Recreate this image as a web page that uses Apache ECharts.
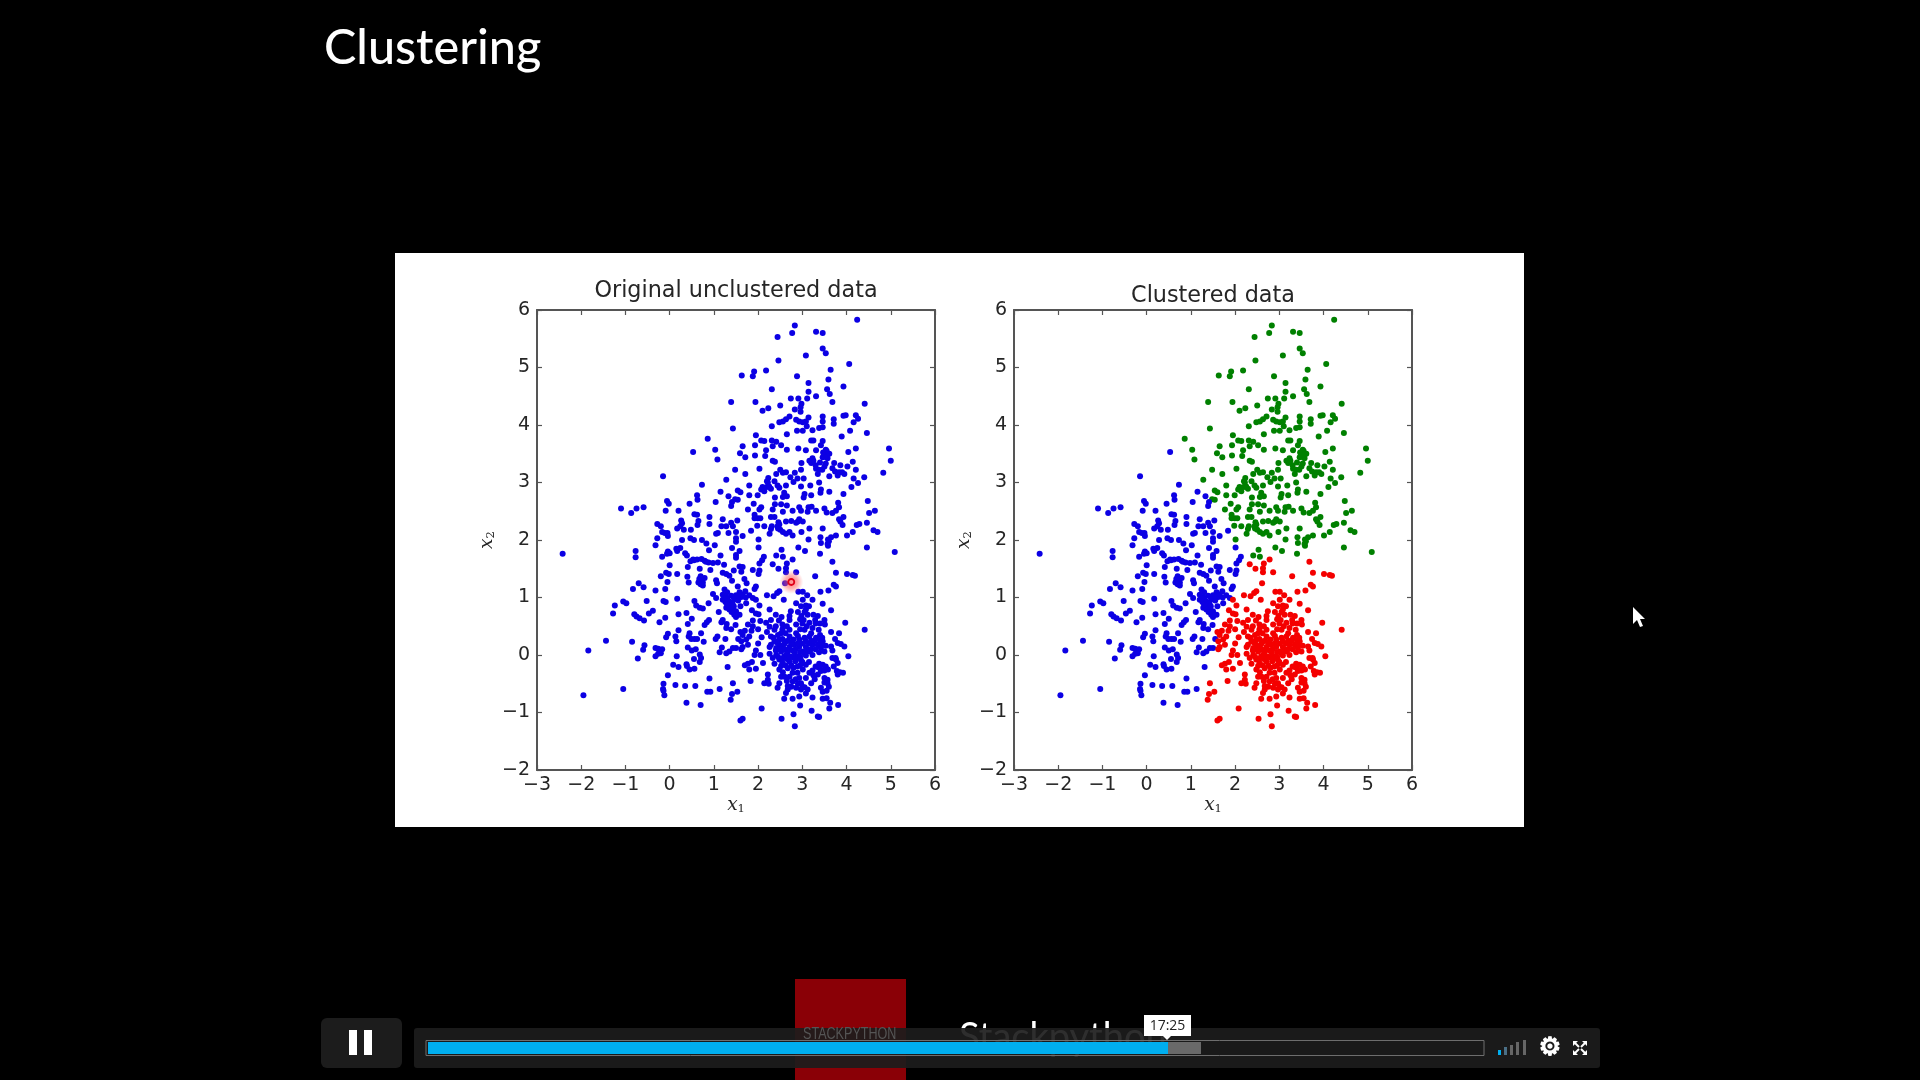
<!DOCTYPE html>
<html><head><meta charset="utf-8"><style>html,body{margin:0;padding:0;background:#000}#c{width:1920px;height:1080px}</style>
<script src="https://cdn.jsdelivr.net/npm/echarts@6/dist/echarts.min.js"></script></head><body><div id="c"></div>
<script>
const pageTitle = "Clustering";
const leftTitle = "Original unclustered data";
const rightTitle = "Clustered data";
const clickPoint = [[2.75,1.27]];
const greenPoints = [[4.24,5.83],[2.83,5.73],[2.77,5.6],[3.31,5.62],[3.46,5.6],[2.44,5.53],[3.46,5.33],[3.53,5.25],[3.08,5.21],[2.46,5.12],[4.06,5.06],[3.64,4.96],[2.18,4.95],[1.91,4.93],[1.88,4.85],[1.63,4.86],[2.88,4.85],[3.59,4.79],[3.14,4.73],[3.93,4.67],[2.31,4.62],[3.56,4.62],[3.14,4.58],[3.62,4.54],[3.31,4.5],[2.74,4.46],[2.91,4.46],[3.11,4.46],[1.94,4.4],[1.39,4.4],[3.68,4.4],[2.98,4.37],[4.41,4.37],[2.5,4.34],[2.96,4.31],[2.23,4.29],[2.1,4.25],[2.83,4.27],[2.96,4.23],[4.21,4.17],[3.93,4.16],[3.98,4.17],[4.26,4.11],[3.46,4.15],[3.14,4.13],[3.71,4.1],[2.71,4.15],[2.63,4.1],[2.56,4.06],[2.48,4.05],[4.16,4.05],[2.86,4.09],[2.93,4.06],[3.01,4.05],[3.08,4.06],[3.46,4.06],[3.71,4.02],[2.31,3.98],[3.1,3.98],[3.46,3.96],[3.38,3.95],[1.43,3.94],[3.23,3.91],[4.08,3.9],[2.88,3.9],[3.01,3.9],[4.46,3.86],[2.65,3.84],[1.95,3.82],[3.89,3.8],[0.86,3.76],[2.07,3.73],[2.31,3.73],[2.14,3.72],[2.41,3.71],[3.2,3.73],[3.25,3.73],[3.46,3.72],[2.52,3.65],[1.93,3.65],[1.65,3.63],[2.33,3.63],[3.42,3.65],[4.96,3.59],[2.91,3.59],[4.21,3.59],[1.03,3.57],[2.65,3.57],[3.08,3.56],[2.18,3.56],[3.31,3.56],[3.53,3.57],[1.59,3.51],[4.04,3.53],[3.5,3.5],[3.61,3.5],[1.93,3.47],[2.16,3.46],[1.71,3.44],[3.46,3.44],[3.23,3.42],[3.16,3.38],[3.57,3.42],[1.08,3.4],[5.0,3.38],[2.33,3.38],[2.38,3.36],[4.14,3.36],[2.98,3.34],[3.72,3.34],[3.53,3.33],[3.2,3.34],[3.86,3.3],[4.02,3.28],[3.5,3.28],[2.03,3.24],[3.31,3.24],[3.38,3.22],[4.21,3.22],[1.48,3.22],[2.5,3.22],[2.97,3.22],[3.74,3.19],[3.83,3.18],[2.63,3.18],[2.56,3.17],[2.41,3.15],[1.71,3.15],[2.83,3.17],[4.83,3.17],[3.35,3.15],[3.95,3.15],[3.8,3.12],[3.61,3.11],[2.73,3.09],[4.4,3.09],[4.16,3.07],[2.23,3.08],[2.2,3.02],[2.89,3.07],[3.03,3.07],[1.28,3.05],[2.37,3.02],[2.8,3.01],[4.26,2.99],[3.38,3.0],[1.8,2.95],[2.63,2.95],[2.44,2.95],[2.1,2.92],[3.18,2.95],[2.97,2.93],[4.11,2.92],[2.48,2.91],[2.07,2.88],[2.29,2.89],[3.42,2.88],[1.54,2.86],[2.14,2.85],[3.61,2.84],[1.6,2.83],[3.41,2.82],[1.99,2.78],[1.8,2.78],[3.93,2.8],[3.2,2.78],[2.59,2.82],[2.65,2.76],[3.05,2.8],[3.03,2.74],[2.38,2.74],[2.56,2.75],[1.48,2.71],[1.54,2.7],[4.48,2.68],[1.9,2.63],[2.38,2.62],[2.52,2.62],[3.81,2.65],[1.77,2.53],[2.07,2.57],[2.03,2.53],[2.93,2.57],[3.83,2.57],[3.14,2.57],[3.21,2.58],[3.5,2.55],[2.33,2.53],[2.78,2.51],[2.97,2.51],[2.56,2.49],[3.31,2.51],[3.55,2.48],[3.12,2.49],[3.68,2.47],[3.76,2.51],[4.64,2.51],[4.51,2.47],[1.92,2.44],[2.29,2.4],[2.37,2.4],[1.92,2.38],[1.99,2.38],[3.93,2.4],[2.93,2.36],[3.83,2.36],[2.46,2.31],[2.63,2.32],[2.86,2.3],[3.01,2.32],[3.86,2.32],[4.46,2.3],[4.29,2.28],[4.23,2.26],[3.91,2.26],[1.98,2.25],[2.14,2.24],[2.31,2.24],[2.48,2.27],[2.44,2.24],[2.29,2.19],[2.5,2.18],[3.16,2.2],[3.46,2.2],[4.61,2.17],[4.7,2.14],[4.14,2.14],[2.71,2.14],[2.56,2.14],[2.26,2.11],[2.98,2.14],[2.63,2.11],[2.78,2.08],[4.01,2.08],[3.76,2.08],[3.65,2.05],[3.41,2.05],[3.58,2.01],[2.01,2.01],[3.14,2.01],[3.42,1.95],[3.57,1.93],[2.53,1.83],[2.91,1.87],[3.06,1.81],[3.58,1.9],[3.6,1.98],[4.46,1.87],[5.09,1.79],[3.4,1.76],[2.41,1.73],[2.56,1.71],[3.5,3.45],[3.55,3.55],[3.47,3.52],[3.4,3.35],[3.45,3.22],[3.3,3.3],[3.25,3.38],[3.68,3.25],[3.9,3.18],[2.2,2.92],[2.22,3.0],[2.25,2.93],[2.05,2.38],[2.75,2.33],[2.9,2.32],[2.45,2.2],[2.65,2.6]];
const bluePoints = [[0.53,3.53],[-0.15,3.11],[0.73,2.96],[0.62,2.78],[0.63,2.7],[1.15,2.84],[1.33,2.76],[1.41,2.66],[1.39,2.59],[-0.06,2.68],[-0.02,2.63],[0.45,2.63],[1.04,2.66],[-1.1,2.55],[-0.75,2.55],[-0.59,2.57],[-0.87,2.47],[-0.09,2.51],[0.2,2.51],[0.56,2.45],[0.62,2.44],[0.9,2.4],[1.2,2.36],[1.53,2.34],[0.26,2.34],[0.65,2.33],[0.9,2.28],[-0.28,2.28],[-0.2,2.24],[0.28,2.29],[1.39,2.3],[1.17,2.24],[1.28,2.24],[1.43,2.24],[0.63,2.26],[0.17,2.2],[0.32,2.18],[0.48,2.18],[0.24,2.24],[1.84,2.16],[1.5,2.14],[1.09,2.12],[1.05,2.11],[1.33,2.12],[-0.17,2.14],[-0.05,2.12],[-0.11,2.12],[-0.28,2.03],[-0.04,2.07],[1.65,2.07],[1.5,2.03],[0.47,2.03],[0.55,2.0],[0.28,2.0],[0.73,2.0],[1.5,1.97],[0.83,1.94],[-0.32,1.91],[1.02,1.91],[1.41,1.86],[2.01,1.87],[0.15,1.85],[0.24,1.86],[-2.42,1.76],[-0.77,1.81],[-0.77,1.7],[-0.04,1.8],[-0.06,1.76],[0,1.77],[-0.17,1.71],[0.17,1.81],[0.35,1.77],[0.39,1.73],[0.53,1.66],[0.47,1.63],[0.62,1.66],[0.79,1.64],[0.89,1.82],[0.88,1.61],[0.98,1.6],[1.09,1.61],[1.15,1.73],[1.5,1.74],[1.58,1.81],[1.5,1.69],[2.13,1.71],[2.09,1.65],[2.03,1.59],[1.58,1.54],[1.65,1.53],[1.23,1.57],[0,1.56],[0.41,1.53],[0.68,1.5],[0.92,1.48],[1.45,1.47],[1.62,1.45],[1.88,1.48],[2.03,1.47],[2.01,1.41],[-0.08,1.43],[-0.02,1.41],[0.17,1.41],[1.2,1.43],[1.28,1.41],[-0.2,1.37],[0.4,1.36],[0.7,1.37],[0.79,1.34],[1.35,1.38],[1.05,1.3],[1.41,1.29],[-0.05,1.27],[0.43,1.26],[0.65,1.26],[0.75,1.26],[-0.7,1.25],[1.07,1.25],[1.69,1.32],[1.74,1.25],[0.75,1.21],[-0.59,1.18],[1.54,1.19],[1.95,1.19],[1.92,1.15],[-0.83,1.15],[-0.1,1.15],[-0.32,1.12],[1.24,1.14],[1.3,1.09],[0.98,1.06],[1.58,1.09],[1.71,1.11],[1.5,1.04],[1.39,1.03],[1.8,1.04],[1.88,0.99],[1.05,0.99],[1.28,1.01],[1.62,1.01],[1.2,0.96],[1.47,0.97],[0.17,0.98],[-0.14,0.94],[-0.09,0.92],[0.56,0.94],[-0.52,0.94],[-1.05,0.93],[-0.98,0.9],[1.73,0.9],[0.88,0.9],[1.26,0.92],[-1.24,0.86],[0.6,0.86],[1.37,0.87],[0.68,0.82],[0.75,0.81],[1.28,0.82],[1.35,0.79],[1.43,0.8],[1.5,0.76],[-0.38,0.77],[-0.47,0.72],[1.11,0.75],[0.38,0.73],[0.2,0.71],[-1.28,0.72],[-0.8,0.71],[-0.75,0.67],[1.46,0.7],[1.58,0.7],[1.5,0.66],[-0.68,0.64],[-0.1,0.65],[0.5,0.63],[-0.58,0.6],[0.89,0.61],[1.2,0.61],[-0.23,0.57],[0.84,0.57],[1.17,0.57],[1.29,0.54],[0.41,0.54],[0.79,0.52],[1.49,0.52],[0.2,0.43],[1.28,0.47],[1.39,0.45],[0.45,0.38],[0.71,0.38],[-0.04,0.37],[1.08,0.32],[-0.08,0.31],[0.13,0.32],[0.43,0.32],[0.49,0.28],[0.56,0.28],[0.62,0.28],[1.04,0.28],[1.26,0.28],[0.15,0.24],[1.55,0.28],[-1.44,0.25],[-0.85,0.23],[0.77,0.23],[-0.57,0.17],[-0.6,0.09],[0.41,0.13],[1.18,0.13],[1.5,0.12],[1.43,0.12],[-0.32,0.12],[-0.26,0.11],[-0.17,0.1],[0.5,0.08],[0.59,0.1],[1.13,0.05],[1.35,0.06],[1.28,0.03],[-1.84,0.08],[-0.2,0.03],[-0.26,0.02],[-0.32,-0.02],[0.68,0.01],[0.16,-0.02],[-0.72,-0.06],[0.71,-0.05],[0.55,-0.07],[0.68,-0.12],[0.08,-0.17],[0.38,-0.16],[0.39,-0.19],[0.2,-0.21],[1.31,-0.21],[0.56,-0.24],[0.45,-0.25],[-0.04,-0.35],[0.9,-0.41],[-0.14,-0.5],[0.13,-0.52],[0.35,-0.54],[0.58,-0.54],[-0.15,-0.59],[-1.05,-0.59],[1.13,-0.59],[0.85,-0.64],[0.92,-0.64],[-0.14,-0.62],[-0.12,-0.7],[-1.95,-0.7],[0.38,-0.83],[0.7,-0.87],[1.3,0.98],[1.35,0.93],[1.42,0.9],[1.45,1.0],[1.55,0.95],[1.3,0.88],[1.4,0.75],[1.6,0.85],[1.55,1.03],[1.65,1.05],[1.72,1.0],[1.45,0.85],[1.2,1.05],[1.25,0.98],[1.52,0.7],[0.55,1.65],[0.72,1.67],[0.82,1.62],[0.67,1.32],[0.73,1.33],[0.7,1.23]];
const redPoints = [[2.78,1.66],[2.65,1.59],[2.33,1.58],[3.68,1.62],[2.46,1.5],[2.63,1.51],[2.63,1.44],[2.86,1.44],[3.76,1.43],[4.01,1.41],[4.14,1.39],[4.19,1.38],[3.29,1.37],[2.61,1.25],[3.71,1.22],[3.76,1.19],[3.59,1.12],[3.41,1.1],[2.48,1.11],[2.91,1.1],[3.01,1.1],[3.11,1.04],[2.2,1.04],[2.35,1.02],[2.43,1.08],[2.58,0.96],[3.01,0.96],[3.23,0.96],[1.95,0.96],[2.86,0.9],[3.46,0.89],[2.03,0.86],[3.08,0.86],[2.97,0.85],[2.26,0.79],[1.86,0.78],[3.65,0.78],[3.08,0.79],[1.95,0.72],[2.01,0.71],[2.74,0.76],[3.12,0.7],[2.4,0.7],[2.53,0.66],[2.71,0.68],[2.98,0.68],[3.35,0.68],[2.29,0.61],[1.88,0.6],[2.05,0.59],[2.47,0.6],[2.71,0.61],[3.03,0.61],[3.29,0.61],[3.5,0.61],[1.77,0.53],[1.88,0.5],[2.18,0.56],[3.16,0.56],[3.97,0.56],[2.55,0.53],[2.86,0.53],[3.51,0.53],[2.26,0.49],[2.37,0.44],[4.41,0.44],[3.23,0.47],[2.71,0.44],[3.05,0.44],[3.37,0.44],[3.65,0.4],[3.83,0.38],[2.52,0.38],[2.86,0.38],[2.29,0.32],[1.65,0.35],[1.8,0.32],[2.08,0.31],[2.71,0.32],[3.16,0.32],[3.31,0.3],[3.74,0.28],[1.73,0.27],[1.62,0.24],[2.48,0.27],[2.37,0.24],[2.63,0.24],[2.93,0.27],[3.08,0.24],[3.46,0.24],[3.8,0.21],[3.87,0.19],[3.95,0.15],[1.77,0.18],[1.65,0.14],[2.29,0.18],[2.48,0.18],[2.82,0.18],[3.23,0.18],[3.35,0.18],[3.53,0.16],[2.26,0.14],[2.41,0.12],[2.56,0.14],[2.71,0.14],[2.93,0.14],[3.08,0.14],[3.42,0.12],[3.68,0.08],[1.62,0.1],[1.95,0.08],[2.52,0.06],[2.67,0.06],[2.82,0.05],[3.01,0.06],[3.16,0.06],[3.5,0.06],[2.26,0.02],[2.05,0],[1.92,0],[2.41,0],[2.59,-0.02],[2.74,-0.03],[2.89,-0.02],[3.08,-0.01],[3.23,0],[4.04,-0.02],[2.33,-0.05],[2.48,-0.08],[2.71,-0.11],[2.84,-0.11],[2.97,-0.09],[3.68,-0.05],[3.76,-0.08],[1.77,-0.15],[2.11,-0.14],[1.7,-0.18],[1.86,-0.12],[2.37,-0.15],[3.38,-0.15],[3.46,-0.17],[3.8,-0.14],[2.52,-0.19],[3.08,-0.17],[2.89,-0.2],[1.95,-0.24],[1.8,-0.25],[3.35,-0.21],[3.53,-0.2],[3.71,-0.2],[2.48,-0.25],[2.67,-0.23],[3.01,-0.25],[3.23,-0.27],[3.42,-0.28],[3.78,-0.28],[3.92,-0.31],[3.85,-0.3],[2.56,-0.3],[2.78,-0.31],[2.89,-0.31],[3.16,-0.31],[3.8,-0.34],[3.35,-0.34],[2.22,-0.34],[2.52,-0.38],[2.71,-0.38],[2.93,-0.4],[3.08,-0.4],[3.5,-0.4],[3.57,-0.43],[1.83,-0.45],[2.22,-0.43],[2.14,-0.49],[2.24,-0.5],[1.43,-0.49],[2.48,-0.49],[2.78,-0.46],[2.97,-0.49],[3.2,-0.49],[3.5,-0.48],[3.57,-0.49],[2.44,-0.57],[2.67,-0.54],[2.86,-0.57],[3.05,-0.56],[2.67,-0.6],[2.97,-0.6],[3.12,-0.6],[3.42,-0.57],[1.53,-0.64],[1.41,-0.68],[2.63,-0.66],[3.08,-0.67],[3.46,-0.64],[2.93,-0.72],[2.59,-0.76],[2.78,-0.76],[3.23,-0.74],[3.46,-0.76],[3.55,-0.75],[1.38,-0.78],[3.63,-0.83],[3.81,-0.87],[2.95,-0.88],[3.61,-0.93],[2.08,-0.93],[3.21,-0.97],[2.8,-1.03],[3.35,-1.07],[3.38,-1.08],[2.53,-1.11],[1.65,-1.11],[1.6,-1.14],[2.83,-1.24],[2.35,0.3],[2.42,0.22],[2.55,0.28],[2.6,0.2],[2.68,0.25],[2.75,0.2],[2.8,0.27],[2.9,0.2],[3.0,0.2],[3.05,0.3],[3.15,0.2],[3.2,0.25],[3.28,0.25],[3.4,0.25],[2.4,0.08],[2.5,0.1],[2.6,0.1],[2.65,0.02],[2.78,0.08],[2.85,0.1],[2.95,0.05],[3.05,0.02],[3.12,0.1],[3.2,0.1],[3.3,0.1],[3.38,0.05],[3.45,0.18],[2.45,-0.03],[2.55,-0.06],[2.65,-0.07],[2.7,-0.02],[2.8,-0.04],[2.85,-0.07],[2.95,-0.04],[3.0,-0.12],[2.55,-0.14],[2.62,-0.18],[2.75,-0.18],[2.8,-0.22],[2.95,-0.18],[3.15,-0.12],[3.4,-0.23],[3.5,-0.27],[3.58,-0.25],[3.3,-0.2],[3.25,-0.35],[3.28,-0.42],[2.6,-0.38],[2.65,-0.45],[2.85,-0.42],[2.9,-0.5],[3.0,-0.55],[2.75,-0.55],[3.6,-0.55],[3.55,-0.62],[2.55,0.45],[2.65,0.5],[2.95,0.45],[3.1,0.5],[3.2,0.38],[3.4,0.55],[3.0,0.55],[2.95,0.62],[2.4,0.5],[2.62,0.38],[2.9,0.33],[3.4,0.35],[3.45,0.3],[2.0,0.2],[1.85,0.42],[2.0,0.45],[1.7,0.42],[1.6,0.4],[2.45,0.35],[3.05,0.75],[3.15,0.85],[2.9,0.75],[3.3,0.55],[3.25,0.7],[2.2,0.4],[3.65,0.15],[3.75,-0.05]];

const C_BLUE='#0c00e4', C_GREEN='#008000', C_RED='#f40000', TXT='#262626', LINE='#555';
const grids=[{left:537,top:310,width:398,height:460},{left:1014,top:310,width:398,height:460}];
const minus=v=>String(v).replace('-','\u2212');
const nameRich={i:{fontFamily:'DejaVu Serif',fontStyle:'italic',fontSize:18.5,color:TXT},s:{fontFamily:'DejaVu Serif',fontSize:11.5,color:TXT,padding:[8,0,0,0]}};
function xAx(g,pos){const main=pos==='bottom';return {type:'value',gridIndex:g,position:pos,min:-3,max:6,interval:1,splitLine:{show:false},
 axisLine:{show:true,onZero:false,lineStyle:{color:LINE,width:2}},axisTick:{show:true,inside:true,length:5,lineStyle:{color:LINE,width:1.2}},
 axisLabel:{show:main,margin:6,fontFamily:'DejaVu Sans',fontSize:19,color:TXT,formatter:minus,showMinLabel:true,showMaxLabel:true,hideOverlap:false},
 name:main?'{i|x}{s|1}':'',nameLocation:'middle',nameGap:25,nameTextStyle:{rich:nameRich}};}
function yAx(g,pos){const main=pos==='left';return {type:'value',gridIndex:g,position:pos,min:-2,max:6,interval:1,splitLine:{show:false},
 axisLine:{show:true,onZero:false,lineStyle:{color:LINE,width:2}},axisTick:{show:true,inside:true,length:5,lineStyle:{color:LINE,width:1.2}},
 axisLabel:{show:main,margin:7,fontFamily:'DejaVu Sans',fontSize:19,color:TXT,formatter:minus,showMinLabel:true,showMaxLabel:true,hideOverlap:false},
 name:main?'{i|x}{s|2}':'',nameLocation:'middle',nameRotate:90,nameGap:40,nameTextStyle:{rich:nameRich}};}
function sc(data,color,xi,yi,size){return {type:'scatter',data:data,xAxisIndex:xi,yAxisIndex:yi,symbolSize:size||6,silent:true,itemStyle:{color:color,opacity:1},animation:false};}
const rect=(x,y,w,h,fill,z,r)=>({type:'rect',z:z,silent:true,shape:{x,y,width:w,height:h,r:r||0},style:{fill}});
const bars=[[1498,1050,'#00aeef'],[1504,1047,'#4a6f86'],[1510,1045,'#666'],[1516,1042,'#666'],[1523,1040,'#666']];
const fs=[[1573,1041,1578,1041,1573,1046],[1587,1041,1582,1041,1587,1046],[1573,1055,1578,1055,1573,1050],[1587,1055,1582,1055,1587,1050]];
const graphics=[
 rect(395,253,1129,574,'#fff',-5),
 rect(795,979,111,101,'#8a0006',-4),
 {type:'text',z:21,silent:true,x:803,y:1026,scaleX:0.74,style:{x:0,y:0,text:'STACKPYTHON',fontFamily:'Liberation Sans',fontSize:17,fill:'#555'}},
 {type:'text',z:-3,silent:true,style:{x:959,y:1019,text:'Stackpython',fontFamily:'Lato',fontSize:38,fill:'#fff'}},
 {type:'rect',z:20,silent:true,shape:{x:414,y:1028,width:1186,height:40,r:3},style:{fill:'rgba(28,28,28,0.92)'}},
 rect(321,1018,81,50,'#1c1c1c',20,6),
 rect(349,1030,8,25,'#fff',21),rect(364,1030,8,25,'#fff',21),
 {type:'rect',z:21,silent:true,shape:{x:426,y:1040.5,width:1058,height:15},style:{fill:'none',stroke:'#6e6e6e',lineWidth:1}},
 rect(1168,1042,33,12,'#6a6a6a',22),
 rect(428,1042,740,12,'#00aeef',22),
 ...bars.map(b=>rect(b[0],b[1],3,1055-b[1],b[2],22)),
 {type:'text',z:22,silent:true,style:{x:1550,y:1048,text:'\u2699',align:'center',verticalAlign:'middle',fontFamily:'DejaVu Sans',fontSize:25,fill:'#fff',stroke:'#fff',lineWidth:1.4}},
 ...fs.map(p=>({type:'polygon',z:22,silent:true,shape:{points:[[p[0],p[1]],[p[2],p[3]],[p[4],p[5]]]},style:{fill:'#fff'}})),
 {type:'line',z:22,silent:true,shape:{x1:1574,y1:1042,x2:1579,y2:1047},style:{stroke:'#fff',lineWidth:2}},
 {type:'line',z:22,silent:true,shape:{x1:1586,y1:1042,x2:1581,y2:1047},style:{stroke:'#fff',lineWidth:2}},
 {type:'line',z:22,silent:true,shape:{x1:1574,y1:1054,x2:1579,y2:1049},style:{stroke:'#fff',lineWidth:2}},
 {type:'line',z:22,silent:true,shape:{x1:1586,y1:1054,x2:1581,y2:1049},style:{stroke:'#fff',lineWidth:2}},
 rect(1144,1015,47,21,'#fff',23),
 {type:'polygon',z:23,silent:true,shape:{points:[[1163,1036],[1171,1036],[1167,1040]]},style:{fill:'#fff'}},
 {type:'text',z:24,silent:true,style:{x:1167.5,y:1026,text:'17:25',align:'center',verticalAlign:'middle',fontFamily:'Open Sans',fontSize:14,fill:'#222'}},
 {type:'polygon',z:30,silent:true,shape:{points:[[1633,607],[1633,624],[1637,620],[1640,627],[1643,626],[1640,619],[1645,619]]},style:{fill:'#fff'}}
];
const chart=echarts.init(document.getElementById('c'),null,{renderer:'canvas'});
chart.setOption({
 animation:false,backgroundColor:'#000',
 title:[
  {text:pageTitle,left:319,top:19,textStyle:{color:'#fff',fontFamily:'Lato',fontWeight:500,fontSize:48.5}},
  {text:leftTitle,left:731,top:275,textAlign:'center',textStyle:{color:TXT,fontFamily:'DejaVu Sans',fontWeight:'normal',fontSize:22.3}},
  {text:rightTitle,left:1208,top:280,textAlign:'center',textStyle:{color:TXT,fontFamily:'DejaVu Sans',fontWeight:'normal',fontSize:22.3}}
 ],
 grid:grids,
 xAxis:[xAx(0,'bottom'),xAx(1,'bottom'),xAx(0,'top'),xAx(1,'top')],
 yAxis:[yAx(0,'left'),yAx(1,'left'),yAx(0,'right'),yAx(1,'right')],
 series:[
  sc(bluePoints.concat(greenPoints,redPoints),C_BLUE,0,0),
  {type:'scatter',data:clickPoint,xAxisIndex:0,yAxisIndex:0,symbolSize:24,silent:true,z:5,itemStyle:{opacity:1,color:{type:'radial',x:.5,y:.5,r:.5,colorStops:[{offset:0,color:'rgba(255,70,70,0.75)'},{offset:.55,color:'rgba(255,90,90,0.45)'},{offset:1,color:'rgba(255,120,120,0)'}]}}},
  {type:'scatter',data:clickPoint,xAxisIndex:0,yAxisIndex:0,symbolSize:6,silent:true,z:6,itemStyle:{opacity:1,color:'rgba(255,255,255,0.2)',borderColor:'#e00018',borderWidth:1.8}},
  sc(greenPoints,C_GREEN,1,1),
  sc(bluePoints,C_BLUE,1,1),
  sc(redPoints,C_RED,1,1)
 ],
 graphic:graphics
});
</script></body></html>
